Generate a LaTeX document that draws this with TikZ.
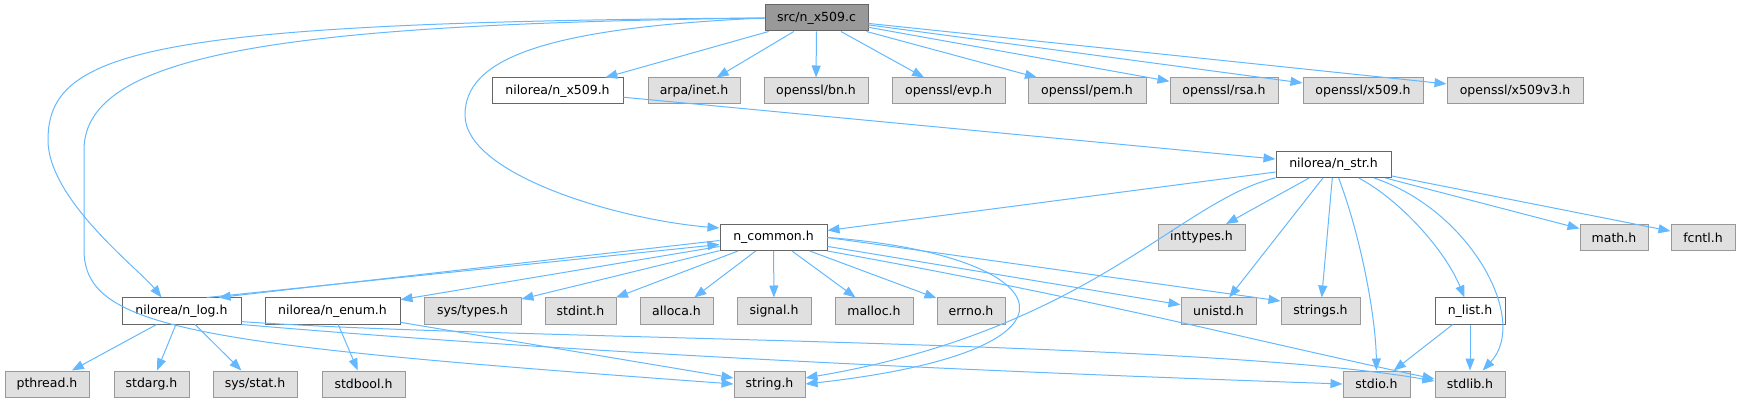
\documentclass[tikz,border=0pt]{standalone}
\usepackage{fontspec}
\setmainfont{DejaVu Sans}
\usepackage{tikz}
\usetikzlibrary{arrows.meta}
\definecolor{edgeblue}{HTML}{63B8FF}
\definecolor{sysfill}{HTML}{E0E0E0}
\definecolor{sysline}{HTML}{999999}
\definecolor{hdrline}{HTML}{666666}
\definecolor{srcfill}{HTML}{999999}

\begin{document}
\begin{tikzpicture}[x=1pt,y=-1pt,
  box/.style={shape=rectangle,draw,line width=1pt,minimum height=26pt,inner sep=0pt,font=\fontsize{12.5}{15}\selectfont},
  sysbox/.style={box,draw=sysline,fill=sysfill},
  hdrbox/.style={box,draw=hdrline,fill=white},
  srcbox/.style={box,draw=hdrline,fill=srcfill},
  inc/.style={draw=edgeblue,line width=1pt,-{Triangle[length=12pt,width=9pt]}}]
\useasboundingbox (0,0) rectangle (1740,403);
\draw (816.5,18) node (srcx509) [srcbox,minimum width=103pt] {src/n\_x509.c};
\draw (557.5,91) node (nx509) [hdrbox,minimum width=131pt] {nilorea/n\_x509.h};
\draw (694,91) node (arpainet) [sysbox,minimum width=92pt] {arpa/inet.h};
\draw (816,91) node (sslbn) [sysbox,minimum width=104pt] {openssl/bn.h};
\draw (948.5,91) node (sslevp) [sysbox,minimum width=113pt] {openssl/evp.h};
\draw (1087,91) node (sslpem) [sysbox,minimum width=118pt] {openssl/pem.h};
\draw (1224,91) node (sslrsa) [sysbox,minimum width=108pt] {openssl/rsa.h};
\draw (1363,91) node (sslx509) [sysbox,minimum width=120pt] {openssl/x509.h};
\draw (1515,91) node (sslx509v3) [sysbox,minimum width=136pt] {openssl/x509v3.h};
\draw (1333.5,164.5) node (nstr) [hdrbox,minimum width=115pt] {nilorea/n\_str.h};
\draw (773.5,237.5) node (ncommon) [hdrbox,minimum width=107pt] {n\_common.h};
\draw (1201.5,237.5) node (inttypes) [sysbox,minimum width=87pt] {inttypes.h};
\draw (1614,237.5) node (mathh) [sysbox,minimum width=68pt] {math.h};
\draw (1703,237.5) node (fcntl) [sysbox,minimum width=64pt] {fcntl.h};
\draw (181.5,311) node (nlog) [hdrbox,minimum width=119pt] {nilorea/n\_log.h};
\draw (332.5,311) node (nenum) [hdrbox,minimum width=135pt] {nilorea/n\_enum.h};
\draw (472.5,311) node (systypes) [sysbox,minimum width=97pt] {sys/types.h};
\draw (580.5,311) node (stdint) [sysbox,minimum width=71pt] {stdint.h};
\draw (676.5,311) node (alloca) [sysbox,minimum width=73pt] {alloca.h};
\draw (774,311) node (signal) [sysbox,minimum width=74pt] {signal.h};
\draw (874,311) node (malloc) [sysbox,minimum width=78pt] {malloc.h};
\draw (971,311) node (errno) [sysbox,minimum width=68pt] {errno.h};
\draw (1218.5,311) node (unistd) [sysbox,minimum width=75pt] {unistd.h};
\draw (1320.5,311) node (strings) [sysbox,minimum width=79pt] {strings.h};
\draw (1470,311) node (nlist) [hdrbox,minimum width=70pt] {n\_list.h};
\draw (47,384) node (pthread) [sysbox,minimum width=84pt] {pthread.h};
\draw (151.5,384) node (stdarg) [sysbox,minimum width=75pt] {stdarg.h};
\draw (255,384) node (sysstat) [sysbox,minimum width=84pt] {sys/stat.h};
\draw (363.5,384) node (stdbool) [sysbox,minimum width=83pt] {stdbool.h};
\draw (769.5,384) node (stringh) [sysbox,minimum width=71pt] {string.h};
\draw (1376.5,384) node (stdio) [sysbox,minimum width=67pt] {stdio.h};
\draw (1470,384) node (stdlib) [sysbox,minimum width=70pt] {stdlib.h};

\draw[inc] (srcx509) -- (nx509);
\draw[inc] (srcx509) -- (arpainet);
\draw[inc] (srcx509) -- (sslbn);
\draw[inc] (srcx509) -- (sslevp);
\draw[inc] (srcx509) -- (sslpem);
\draw[inc] (srcx509) -- (sslrsa);
\draw[inc] (srcx509) -- (sslx509);
\draw[inc] (srcx509) -- (sslx509v3);
\draw[inc] (srcx509.west) .. controls (150,22) and (48,50) .. (48,140) .. controls (48,200) and (140,270) .. ([xshift=-20pt]nlog.north);
\draw[inc] (srcx509.west) .. controls (300,24) and (84,50) .. (84,150) -- (84,250) .. controls (84,330) and (200,345) .. (stringh.west);
\draw[inc] (srcx509.west) .. controls (540,28) and (465,60) .. (465,115) .. controls (465,175) and (620,220) .. (ncommon.170);
\draw[inc] (nx509) -- (nstr);
\draw[inc] (nstr) -- (ncommon);
\draw[inc] (nstr) -- (inttypes);
\draw[inc] (nstr) -- (mathh);
\draw[inc] (nstr) -- (fcntl);
\draw[inc] (nstr) -- (unistd);
\draw[inc] (nstr) -- (strings);
\draw[inc] (nstr) .. controls (1362,240) and (1376,320) .. (stdio);
\draw[inc] (nstr) .. controls (1400,200) and (1445,250) .. (nlist);
\draw[inc] (nstr) .. controls (1470,210) and (1530,320) .. (stdlib);
\draw[inc] (nstr) .. controls (1180,200) and (1090,330) .. (stringh);
\draw[inc] ([yshift=-3pt]ncommon.west) -- (nlog.20);
\draw[inc] (nlog.28) -- ([yshift=-7pt]ncommon.west);
\draw[inc] (ncommon) -- (nenum);
\draw[inc] (ncommon) -- (systypes);
\draw[inc] (ncommon) -- (stdint);
\draw[inc] (ncommon) -- (alloca);
\draw[inc] (ncommon) -- (signal);
\draw[inc] (ncommon) -- (malloc);
\draw[inc] (ncommon) -- (errno);
\draw[inc] (ncommon) -- (unistd);
\draw[inc] (ncommon.east) -- ([yshift=10pt]strings.west);
\draw[inc] (ncommon.east) .. controls (1060,255) and (1110,350) .. (stringh.east);
\draw[inc] (ncommon.south east) .. controls (1100,300) and (1250,340) .. ([yshift=5pt]stdlib.west);
\draw[inc] (nlog) -- (pthread);
\draw[inc] (nlog) -- (stdarg);
\draw[inc] (nlog) -- (sysstat);
\draw[inc] (nlog.south east) .. controls (600,355) and (1000,372) .. (stdio.west);
\draw[inc] (nlog.-10) .. controls (500,340) and (1200,340) .. ([yshift=3pt]stdlib.west);
\draw[inc] (nenum) -- (stdbool);
\draw[inc] (nenum) -- (stringh);
\draw[inc] (nlist) -- (stdio);
\draw[inc] (nlist) -- (stdlib);
\end{tikzpicture}
\end{document}
